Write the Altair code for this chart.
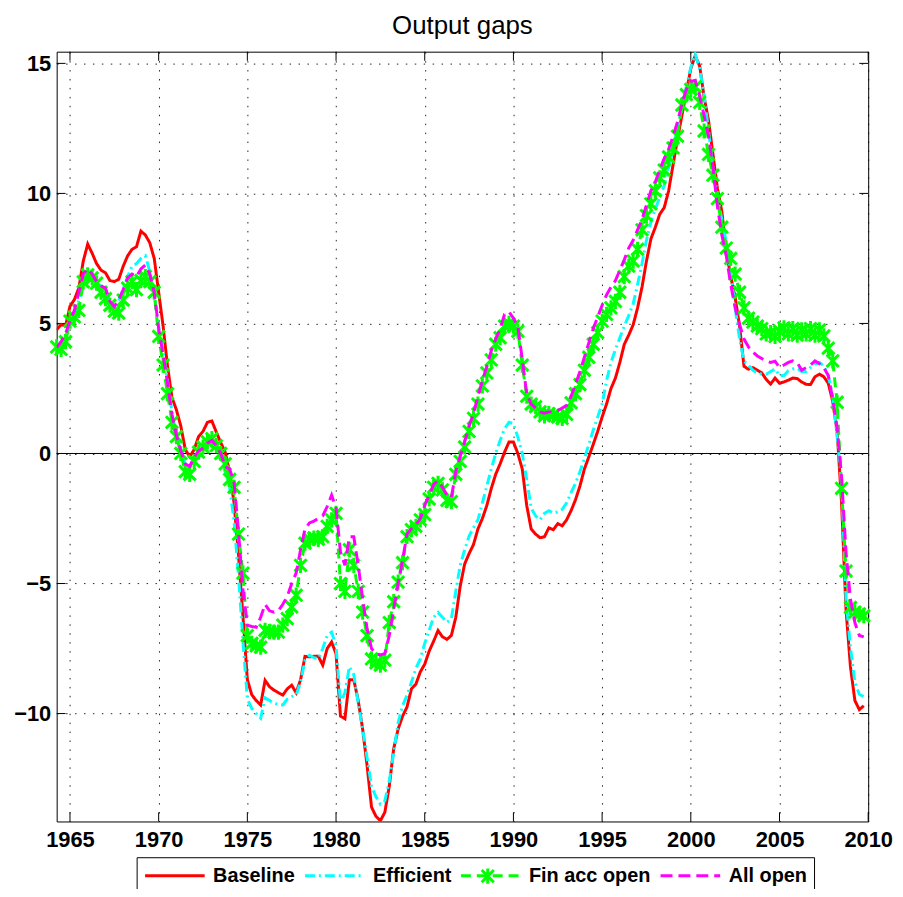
import altair as alt
import pandas as pd

# quarterly observations, first one is 1964.25
START = 1964.25
STEP = 0.25

baseline = [
    4.75, 4.96, 4.9,            # 1964
    5.66, 5.92, 6.36, 7.4,      # 1965
    8.05, 7.7, 7.3, 7.05,       # 1966
    6.95, 6.65, 6.61, 6.7,      # 1967
    7.2, 7.6, 7.85, 7.95,       # 1968
    8.55, 8.4, 8.1, 7.5,        # 1969
    6.2, 4.9, 3.35, 2.15,       # 1970
    1.68, 1.05, 0.15, -0.12,    # 1971
    0.15, 0.65, 0.85, 1.2,      # 1972
    1.25, 0.82, 0.42, 0.05,     # 1973
    -0.7, -1.9, -3.9, -6.24,    # 1974
    -8.7, -9.28, -9.5, -9.67,   # 1975
    -8.72, -8.97, -9.1, -9.2,   # 1976
    -9.29, -9.05, -8.91, -9.2,  # 1977
    -8.7, -7.8, -7.82, -7.8,    # 1978
    -7.8, -8.14, -7.5, -7.25,   # 1979
    -7.7, -10.1, -10.2, -8.7,   # 1980
    -8.7, -9.5, -10.6, -12.0,   # 1981
    -13.6, -13.95, -14.12, -13.8,  # 1982
    -12.8, -11.35, -10.6, -10.1,   # 1983
    -9.75, -9.05, -8.87, -8.4,  # 1984
    -8.1, -7.6, -7.22, -6.81,   # 1985
    -7.05, -7.15, -7.0, -6.3,   # 1986
    -5.1, -4.25, -3.85, -3.5,   # 1987
    -2.9, -2.5, -2.0, -1.35,    # 1988
    -0.8, -0.4, 0.05, 0.44,     # 1989
    0.44, 0.0, -0.6, -2.0,      # 1990
    -2.9, -3.1, -3.24, -3.2,    # 1991
    -2.86, -2.93, -2.7, -2.78,  # 1992
    -2.55, -2.2, -1.78, -1.25,  # 1993
    -0.6, -0.13, 0.35, 0.85,    # 1994
    1.4, 1.9, 2.5, 2.9,         # 1995
    3.5, 4.2, 4.55, 4.95,       # 1996
    5.6, 6.4, 7.4, 8.25,        # 1997
    8.7, 9.2, 9.45, 10.1,       # 1998
    11.1, 12.1, 13.0, 13.9,     # 1999
    14.8, 15.3, 14.9, 13.7,     # 2000
    12.8, 11.5, 10.2, 9.3,      # 2001
    7.8, 6.8, 6.0, 4.9,         # 2002
    3.35, 3.24, 3.3, 3.2,       # 2003
    3.1, 2.85, 2.67, 2.9,       # 2004
    2.7, 2.75, 2.82, 2.9,       # 2005
    2.88, 2.75, 2.66, 2.65,     # 2006
    2.95, 3.05, 2.95, 2.7,      # 2007
    2.0, 0.85, -1.9, -6.0,      # 2008
    -8.2, -9.5, -9.85, -9.7,    # 2009
]

efficient = [
    3.95, 4.07, 4.5,            # 1964
    4.96, 5.4, 5.9, 6.5,        # 1965
    7.0, 6.9, 6.6, 6.4,         # 1966
    6.3, 5.85, 5.65, 5.9,       # 1967
    6.3, 6.8, 7.2, 7.3,         # 1968
    7.5, 7.6, 7.0, 6.1,         # 1969
    4.9, 3.9, 2.8, 1.6,         # 1970
    0.63, 0.1, -0.4, -0.6,      # 1971
    -0.15, 0.1, 0.2, 0.38,      # 1972
    0.5, 0.3, 0.0, -0.7,        # 1973
    -1.3, -2.6, -4.7, -7.2,     # 1974
    -9.45, -9.8, -10.0, -10.18, # 1975
    -9.4, -9.5, -9.6, -9.65,    # 1976
    -9.67, -9.45, -9.35, -9.3,  # 1977
    -8.78, -7.95, -7.76, -7.85, # 1978
    -7.89, -7.5, -7.0, -6.87,   # 1979
    -7.4, -9.6, -9.2, -8.2,     # 1980
    -8.5, -9.6, -10.6, -11.7,   # 1981
    -12.8, -13.2, -13.49, -13.36,  # 1982
    -12.6, -11.5, -10.35, -9.7,    # 1983
    -9.3, -8.8, -8.27, -7.9,    # 1984
    -7.3, -6.8, -6.3, -6.11,    # 1985
    -6.3, -6.49, -6.36, -5.3,   # 1986
    -4.3, -3.7, -3.18, -2.85,   # 1987
    -2.55, -1.9, -1.25, -0.6,   # 1988
    0.0, 0.5, 0.95, 1.2,        # 1989
    1.15, 0.63, 0.0, -1.0,      # 1990
    -2.1, -2.4, -2.55, -2.3,    # 1991
    -2.2, -2.29, -2.25, -2.15,  # 1992
    -1.9, -1.5, -1.15, -0.7,    # 1993
    -0.2, 0.35, 0.9, 1.4,       # 1994
    1.9, 2.8, 3.5, 4.0,         # 1995
    4.45, 4.9, 5.3, 5.75,       # 1996
    6.5, 7.3, 8.2, 8.9,         # 1997
    9.4, 9.85, 10.3, 11.0,      # 1998
    11.7, 12.5, 13.3, 14.1,     # 1999
    14.85, 15.35, 14.8, 13.8,   # 2000
    12.4, 11.0, 9.9, 9.0,       # 2001
    8.1, 7.0, 5.6, 4.4,         # 2002
    3.56, 3.4, 3.2, 3.1,        # 2003
    3.05, 3.05, 3.15, 3.25,     # 2004
    3.0, 3.0, 3.18, 3.25,       # 2005
    3.28, 3.15, 3.15, 3.31,     # 2006
    3.45, 3.5, 3.37, 3.0,       # 2007
    2.2, 0.65, -1.1, -5.6,      # 2008
    -7.45, -8.8, -9.26, -9.35,  # 2009
]

fin_acc_open = [
    4.1, 4.0, 4.3,              # 1964
    5.09, 5.25, 5.5, 6.6,       # 1965
    6.87, 6.75, 6.55, 6.2,      # 1966
    5.95, 5.7, 5.47, 5.4,       # 1967
    5.9, 6.36, 6.61, 6.3,       # 1968
    6.65, 6.8, 6.61, 6.2,       # 1969
    4.5, 3.4, 2.3, 1.2,         # 1970
    0.65, 0.0, -0.7, -0.8,      # 1971
    -0.3, 0.05, 0.25, 0.45,     # 1972
    0.57, 0.3, 0.0, -0.4,       # 1973
    -1.0, -1.3, -3.1, -4.6,     # 1974
    -7.0, -7.3, -7.4, -7.45,    # 1975
    -6.8, -6.85, -6.87, -6.87,  # 1976
    -6.6, -6.35, -5.9, -5.45,   # 1977
    -4.3, -3.45, -3.3, -3.25,   # 1978
    -3.3, -3.2, -2.8, -2.55,    # 1979
    -2.3, -5.0, -5.3, -3.7,     # 1980
    -4.3, -5.3, -6.1, -7.0,     # 1981
    -7.9, -8.05, -8.14, -7.95,  # 1982
    -6.5, -5.7, -4.95, -4.2,    # 1983
    -3.2, -2.93, -2.8, -2.55,   # 1984
    -2.35, -1.75, -1.3, -1.15,  # 1985
    -1.4, -1.8, -1.85, -0.8,    # 1986
    -0.3, 0.25, 0.85, 1.35,     # 1987
    1.9, 2.6, 3.1, 3.6,         # 1988
    4.2, 4.45, 4.9, 5.0,        # 1989
    4.9, 4.7, 3.4, 2.2,         # 1990
    1.9, 1.8, 1.6, 1.45,        # 1991
    1.53, 1.48, 1.4, 1.35,      # 1992
    1.5, 1.95, 2.3, 2.65,       # 1993
    3.2, 3.7, 4.2, 4.65,        # 1994
    5.09, 5.35, 5.6, 5.85,      # 1995
    6.2, 6.8, 7.2, 7.4,         # 1996
    7.85, 8.6, 9.15, 9.6,       # 1997
    10.1, 10.6, 10.9, 11.4,     # 1998
    11.75, 12.2, 13.4, 13.8,    # 1999
    14.0, 14.1, 13.5, 12.4,     # 2000
    11.5, 10.7, 9.8, 8.7,       # 2001
    7.9, 7.5, 6.9, 6.2,         # 2002
    5.6, 5.2, 5.05, 4.9,        # 2003
    4.8, 4.6, 4.65, 4.5,        # 2004
    4.7, 4.83, 4.6, 4.8,        # 2005
    4.55, 4.75, 4.6, 4.8,       # 2006
    4.55, 4.75, 4.52, 4.05,     # 2007
    3.56, 1.97, -1.34, -4.52,   # 2008
    -5.92, -6.1, -6.17, -6.24,  # 2009
]

all_open = [
    4.07, 4.3, 4.6,             # 1964
    5.1, 5.5, 6.2, 6.9,         # 1965
    7.1, 6.9, 6.6, 6.45,        # 1966
    6.36, 5.85, 5.65, 5.9,      # 1967
    6.3, 6.75, 6.9, 6.8,        # 1968
    7.1, 7.25, 6.9, 6.2,        # 1969
    4.8, 3.8, 2.7, 1.5,         # 1970
    0.7, 0.1, -0.4, -0.5,       # 1971
    -0.15, 0.1, 0.2, 0.4,       # 1972
    0.5, 0.3, 0.0, -0.5,        # 1973
    -0.6, -1.1, -3.0, -5.22,    # 1974
    -6.6, -6.65, -6.68, -6.3,   # 1975
    -5.8, -6.05, -6.1, -6.04,   # 1976
    -5.8, -5.5, -5.0, -4.6,     # 1977
    -3.7, -2.9, -2.67, -2.6,    # 1978
    -2.5, -2.4, -2.04, -1.6,    # 1979
    -2.1, -3.8, -4.3, -3.2,     # 1980
    -3.2, -4.3, -5.6, -6.74,    # 1981
    -7.5, -7.7, -7.75, -7.7,    # 1982
    -7.0, -6.0, -5.0, -4.1,     # 1983
    -3.1, -2.9, -2.75, -2.5,    # 1984
    -2.0, -1.6, -1.2, -1.05,    # 1985
    -1.3, -1.6, -1.7, -0.7,     # 1986
    -0.1, 0.45, 1.05, 1.55,     # 1987
    2.2, 2.8, 3.35, 3.95,       # 1988
    4.4, 4.8, 5.35, 5.45,       # 1989
    5.2, 4.9, 3.6, 2.3,         # 1990
    1.9, 1.75, 1.6, 1.55,       # 1991
    1.6, 1.6, 1.65, 1.75,       # 1992
    1.85, 2.2, 2.65, 3.15,      # 1993
    3.7, 4.25, 4.8, 5.25,       # 1994
    5.7, 6.1, 6.4, 6.65,        # 1995
    7.05, 7.45, 7.9, 8.2,       # 1996
    8.6, 9.0, 9.55, 10.1,       # 1997
    10.45, 10.9, 11.35, 11.7,   # 1998
    12.2, 12.75, 13.45, 14.0,   # 1999
    14.3, 14.35, 13.75, 13.0,   # 2000
    12.2, 11.0, 9.5, 8.4,       # 2001
    7.6, 6.5, 5.6, 4.96,        # 2002
    4.4, 4.1, 3.9, 3.75,        # 2003
    3.65, 3.56, 3.5, 3.55,      # 2004
    3.31, 3.4, 3.5, 3.56,       # 2005
    3.5, 3.2, 3.3, 3.4,         # 2006
    3.56, 3.45, 3.3, 3.0,       # 2007
    2.1, 1.0, -0.9, -3.8,       # 2008
    -5.6, -6.5, -7.0, -7.05,    # 2009
]

SERIES = ["Baseline", "Efficient", "Fin acc open", "All open"]
COLORS = ["#FF0000", "#00FFFF", "#00FF00", "#FF00FF"]
DASHES = [[1, 0], [10, 4, 2, 4], [10, 6], [12, 6]]
X_TICKS = [1965, 1970, 1975, 1980, 1985, 1990, 1995, 2000, 2005, 2010]
Y_TICKS = [-10, -5, 0, 5, 10, 15]
X_DOMAIN = [1964.25, 2010]
Y_DOMAIN = [-14.15, 15.45]
TITLE = "Output gaps"
MARKER = "M-1,-1L1,1M-1,1L1,-1M0,-1.25L0,1.25"

rows = []
for name, vals in zip(SERIES, [baseline, efficient, fin_acc_open, all_open]):
    for i, v in enumerate(vals):
        rows.append({"t": START + STEP * i, "v": v, "series": name})
df = pd.DataFrame(rows)

FONT = "Liberation Sans"
xscale = alt.Scale(domain=X_DOMAIN, nice=False, zero=False)
yscale = alt.Scale(domain=Y_DOMAIN, nice=False, zero=False)

common_axis = dict(
    labelFont=FONT, labelFontSize=22, labelFontWeight="bold", labelColor="black",
    ticks=False, domain=False, grid=True, gridColor="#000000", gridDash=[1.5, 7.5],
    gridWidth=1, gridOpacity=0.85, title=None,
)
xaxis = alt.Axis(values=X_TICKS, format="d", labelPadding=8, labelFlush=False,
                 labelOverlap=False, **common_axis)
yaxis = alt.Axis(values=Y_TICKS, format="d", labelPadding=6, **common_axis)

X = lambda f="t": alt.X(f"{f}:Q", scale=xscale, axis=xaxis)
Y = lambda f="v": alt.Y(f"{f}:Q", scale=yscale, axis=yaxis)

# legend symbol: a 60px horizontal stroke while the entry keeps a 20px box
legend = alt.Legend(
    orient="none", legendX=80.5, legendY=811, direction="horizontal", columns=4,
    title=None, symbolType="M-1,0L5,0", symbolSize=400, symbolStrokeWidth=3,
    labelFont=FONT, labelFontSize=20, labelFontWeight="bold", labelColor="black",
    strokeColor="black", fillColor="white", padding=7, columnPadding=3,
    labelOffset=47, labelLimit=0,
)
color = alt.Color("series:N", scale=alt.Scale(domain=SERIES, range=COLORS), legend=legend)
dash = alt.StrokeDash("series:N", scale=alt.Scale(domain=SERIES, range=DASHES), legend=legend)

# marker legend overlaid on the middle of the "Fin acc open" legend sample
marker_legend = alt.Legend(
    orient="none", legendX=426, legendY=822, title=None, labelExpr="''",
    labelFontSize=1, symbolSize=150, symbolStrokeWidth=3, symbolStrokeColor="#00FF00",
    symbolFillColor="transparent", padding=0, labelOffset=0,
)

base = alt.Chart(df)

zero = alt.Chart(pd.DataFrame({"z": [0]})).mark_rule(color="black", strokeWidth=1).encode(y=Y("z"))

# inward ticks (MATLAB style)
tick_rows = []
for xv in X_TICKS:
    tick_rows.append({"x": xv, "x2": xv, "y": Y_DOMAIN[0], "y2": Y_DOMAIN[0] + 0.35})
    tick_rows.append({"x": xv, "x2": xv, "y": Y_DOMAIN[1], "y2": Y_DOMAIN[1] - 0.35})
for yv in Y_TICKS:
    tick_rows.append({"x": X_DOMAIN[0], "x2": X_DOMAIN[0] + 0.5, "y": yv, "y2": yv})
    tick_rows.append({"x": X_DOMAIN[1], "x2": X_DOMAIN[1] - 0.5, "y": yv, "y2": yv})
ticks = alt.Chart(pd.DataFrame(tick_rows)).mark_rule(color="black", strokeWidth=1).encode(
    x=X("x"), x2="x2:Q", y=Y("y"), y2="y2:Q"
)

layers = [zero, ticks]
for name in SERIES:
    layers.append(
        base.transform_filter(alt.datum.series == name)
        .mark_line(strokeWidth=3, strokeCap="butt", clip=True)
        .encode(x=X(), y=Y(), color=color, strokeDash=dash, order="t:Q")
    )
    if name == "Fin acc open":
        layers.append(
            base.transform_filter(alt.datum.series == name)
            .transform_calculate(mk="'marker'")
            .mark_point(size=150, strokeWidth=3, color="#00FF00", filled=False, opacity=1)
            .encode(
                x=X(), y=Y(),
                shape=alt.Shape("mk:N", scale=alt.Scale(domain=["marker"], range=[MARKER]),
                                legend=marker_legend),
            )
        )

chart = (
    alt.layer(*layers)
    .properties(
        width=817, height=775,
        padding={"left": 49, "top": 41, "right": 27, "bottom": 65},
        autosize=alt.AutoSizeParams(type="none"),
        title=alt.TitleParams(TITLE, font=FONT, fontSize=26, fontWeight="normal",
                              color="black", anchor="middle", offset=12),
        background="white",
    )
    .configure_view(stroke="black", strokeWidth=1)
)

chart.save("out.html", embed_options={"renderer": "svg", "actions": False})
